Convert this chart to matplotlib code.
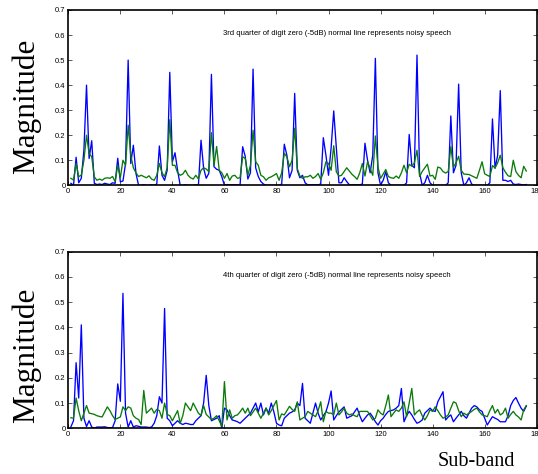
import numpy as np
import matplotlib
matplotlib.use("Agg")
import matplotlib.pyplot as plt

# ---------------- data ----------------
sub_band = np.arange(1, 177)

top_blue = [
    0.008, 0.0, 0.112, 0.01, 0.028, 0.14, 0.40, 0.107, 0.178, 0.008,
    0.003, 0.005, 0.003, 0.008, 0.005, 0.003, 0.01, 0.008, 0.108, 0.014,
    0.017, 0.087, 0.50, 0.087, 0.16, 0.048, 0.0, 0.0, 0.002, 0.0,
    0.0, 0.002, 0.0, 0.005, 0.157, 0.04, 0.02, 0.06, 0.451, 0.094,
    0.13, 0.06, 0.0, 0.0, 0.002, 0.0, 0.0, 0.0, 0.002, 0.0,
    0.18, 0.068, 0.028, 0.048, 0.443, 0.074, 0.064, 0.06, 0.034, 0.0,
    0.003, 0.002, 0.002, 0.002, 0.002, 0.0, 0.154, 0.115, 0.025, 0.05,
    0.464, 0.07, 0.035, 0.015, 0.005, 0.0, 0.0, 0.0, 0.0, 0.0,
    0.0, 0.005, 0.164, 0.12, 0.03, 0.06, 0.367, 0.06, 0.03, 0.04,
    0.01, 0.002, 0.002, 0.002, 0.002, 0.002, 0.005, 0.19, 0.12, 0.04,
    0.15, 0.297, 0.15, 0.01, 0.01, 0.03, 0.015, 0.002, 0.002, 0.002,
    0.002, 0.002, 0.005, 0.168, 0.10, 0.05, 0.12, 0.507, 0.05, 0.0,
    0.02, 0.054, 0.01, 0.0, 0.0, 0.0, 0.0, 0.0, 0.0, 0.01,
    0.203, 0.08, 0.07, 0.52, 0.05, 0.0, 0.01, 0.04, 0.01, 0.0,
    0.0, 0.0, 0.0, 0.0, 0.0, 0.01, 0.277, 0.05, 0.08, 0.404,
    0.05, 0.0, 0.01, 0.03, 0.005, 0.0, 0.0, 0.0, 0.0, 0.0,
    0.0, 0.01, 0.265, 0.068, 0.12, 0.378, 0.02, 0.02, 0.015, 0.02,
    0.005, 0.003, 0.005, 0.003, 0.002, 0.003,
]

top_green = [
    0.028, 0.021, 0.087, 0.034, 0.041, 0.10, 0.20, 0.127, 0.114, 0.034,
    0.02, 0.025, 0.02, 0.028, 0.03, 0.028, 0.035, 0.015, 0.08, 0.03,
    0.10, 0.08, 0.24, 0.12, 0.07, 0.05, 0.035, 0.04, 0.035, 0.03,
    0.038, 0.025, 0.02, 0.04, 0.087, 0.05, 0.035, 0.07, 0.262, 0.08,
    0.08, 0.05, 0.04, 0.045, 0.06, 0.04, 0.03, 0.025, 0.04, 0.025,
    0.06, 0.07, 0.065, 0.055, 0.21, 0.08, 0.155, 0.06, 0.05, 0.028,
    0.047, 0.02, 0.037, 0.04, 0.028, 0.03, 0.114, 0.107, 0.04, 0.08,
    0.22, 0.094, 0.08, 0.04, 0.034, 0.02, 0.03, 0.034, 0.04, 0.047,
    0.02, 0.05, 0.127, 0.114, 0.074, 0.10, 0.228, 0.067, 0.037, 0.028,
    0.034, 0.034, 0.04, 0.028, 0.035, 0.047, 0.024, 0.05, 0.094, 0.087,
    0.06, 0.158, 0.054, 0.037, 0.04, 0.055, 0.07, 0.057, 0.044, 0.035,
    0.024, 0.05, 0.087, 0.037, 0.094, 0.067, 0.04, 0.197, 0.074, 0.028,
    0.045, 0.063, 0.035, 0.03, 0.028, 0.037, 0.028, 0.05, 0.08, 0.05,
    0.084, 0.076, 0.09, 0.14, 0.035, 0.055, 0.07, 0.084, 0.037, 0.04,
    0.024, 0.073, 0.069, 0.055, 0.049, 0.055, 0.154, 0.073, 0.09, 0.116,
    0.06, 0.045, 0.044, 0.043, 0.038, 0.033, 0.028, 0.06, 0.094, 0.046,
    0.04, 0.035, 0.079, 0.069, 0.09, 0.12, 0.07, 0.052, 0.038, 0.035,
    0.10, 0.055, 0.04, 0.03, 0.076, 0.057,
]

bottom_blue = [
    0.006, 0.03, 0.26, 0.12, 0.41, 0.04, 0.007, 0.03, 0.005, 0.0,
    0.005, 0.005, 0.005, 0.006, 0.003, 0.002, 0.003, 0.03, 0.176, 0.107,
    0.535, 0.06, 0.005, 0.03, 0.005, 0.01, 0.008, 0.005, 0.005, 0.005,
    0.003, 0.005, 0.02, 0.05, 0.125, 0.10, 0.475, 0.04, 0.03, 0.01,
    0.02, 0.03, 0.02, 0.015, 0.02, 0.018, 0.015, 0.015, 0.03, 0.04,
    0.05, 0.10, 0.21, 0.09, 0.03, 0.035, 0.04, 0.05, 0.0, 0.08,
    0.073, 0.05, 0.033, 0.03, 0.026, 0.02, 0.03, 0.04, 0.05, 0.06,
    0.08, 0.10, 0.065, 0.10, 0.053, 0.08, 0.06, 0.10, 0.065, 0.02,
    0.013, 0.01, 0.04, 0.05, 0.06, 0.065, 0.073, 0.10, 0.09, 0.178,
    0.04, 0.03, 0.02, 0.06, 0.10, 0.06, 0.033, 0.05, 0.065, 0.10,
    0.148, 0.033, 0.05, 0.065, 0.075, 0.085, 0.04, 0.045, 0.05, 0.065,
    0.08, 0.05, 0.026, 0.04, 0.053, 0.06, 0.045, 0.026, 0.013, 0.03,
    0.04, 0.055, 0.067, 0.07, 0.073, 0.08, 0.09, 0.158, 0.026, 0.05,
    0.067, 0.053, 0.035, 0.02, 0.025, 0.033, 0.06, 0.07, 0.08, 0.07,
    0.067, 0.105, 0.125, 0.145, 0.033, 0.045, 0.053, 0.026, 0.04, 0.053,
    0.067, 0.05, 0.04, 0.06, 0.08, 0.09, 0.085, 0.073, 0.067, 0.04,
    0.013, 0.03, 0.046, 0.04, 0.035, 0.026, 0.026, 0.026, 0.05, 0.09,
    0.11, 0.122, 0.10, 0.08, 0.067, 0.088,
]

bottom_green = [
    0.042, 0.04, 0.12, 0.07, 0.03, 0.06, 0.09, 0.06, 0.058, 0.055,
    0.05, 0.047, 0.045, 0.065, 0.085, 0.07, 0.05, 0.035, 0.04, 0.045,
    0.085, 0.07, 0.085, 0.08, 0.05, 0.04, 0.035, 0.015, 0.15, 0.06,
    0.07, 0.08, 0.06, 0.075, 0.07, 0.04, 0.10, 0.055, 0.05, 0.03,
    0.05, 0.07, 0.02, 0.05, 0.10, 0.085, 0.07, 0.10, 0.08, 0.06,
    0.05, 0.09, 0.055, 0.045, 0.035, 0.04, 0.05, 0.03, 0.008, 0.185,
    0.033, 0.073, 0.04, 0.05, 0.053, 0.065, 0.08, 0.06, 0.08, 0.05,
    0.065, 0.08, 0.06, 0.04, 0.06, 0.08, 0.053, 0.07, 0.09, 0.11,
    0.033, 0.057, 0.053, 0.07, 0.087, 0.075, 0.067, 0.105, 0.033, 0.04,
    0.046, 0.067, 0.06, 0.053, 0.046, 0.07, 0.105, 0.026, 0.067, 0.06,
    0.06, 0.053, 0.10, 0.053, 0.065, 0.08, 0.06, 0.053, 0.057, 0.05,
    0.046, 0.067, 0.067, 0.067, 0.067, 0.05, 0.033, 0.04, 0.073, 0.06,
    0.053, 0.09, 0.132, 0.046, 0.06, 0.073, 0.067, 0.08, 0.105, 0.046,
    0.10, 0.158, 0.053, 0.065, 0.073, 0.05, 0.033, 0.05, 0.073, 0.067,
    0.085, 0.07, 0.053, 0.04, 0.045, 0.053, 0.08, 0.105, 0.10, 0.07,
    0.046, 0.06, 0.053, 0.06, 0.067, 0.075, 0.08, 0.065, 0.053, 0.05,
    0.046, 0.07, 0.09, 0.06, 0.075, 0.053, 0.06, 0.08, 0.04, 0.055,
    0.067, 0.053, 0.045, 0.033, 0.073, 0.09,
]

x_ticks = [0, 20, 40, 60, 80, 100, 120, 140, 160, 180]
y_ticks = [0, 0.1, 0.2, 0.3, 0.4, 0.5, 0.6, 0.7]
y_tick_labels = ["0", "0.1", "0.2", "0.3", "0.4", "0.5", "0.6", "0.7"]
titles = [
    "3rd quarter of digit zero (-5dB) normal line represents noisy speech",
    "4th quarter of digit zero (-5dB) normal line represents noisy speech",
]
y_label = "Magnitude"
x_label = "Sub-band"

# ---------------- figure ----------------
W, H = 538, 474
fig = plt.figure(figsize=(W / 100, H / 100), dpi=100)

def frac_rect(l, t, r, b):
    return [l / W, 1 - b / H, (r - l) / W, (b - t) / H]

ax_top = fig.add_axes(frac_rect(68.3, 10, 536.7, 185.3))
ax_bot = fig.add_axes(frac_rect(68.3, 251.7, 536.7, 428.3))

series = [(ax_top, top_blue, top_green, titles[0]),
          (ax_bot, bottom_blue, bottom_green, titles[1])]

for ax, blue, green, title in series:
    ax.plot(sub_band, blue, color="#0000ff", lw=0.95)
    ax.plot(sub_band, green, color="#0a7a0a", lw=0.95)
    ax.set_xlim(0, 180)
    ax.set_ylim(0, 0.7)
    ax.set_xticks(x_ticks)
    ax.set_yticks(y_ticks)
    ax.set_yticklabels(y_tick_labels)
    ax.tick_params(direction="in", length=3, width=0.6, top=True, right=True,
                   labelsize=5.5, pad=2, colors="#404040", labelcolor="black")
    for lab in ax.get_xticklabels() + ax.get_yticklabels():
        lab.set_family(["Liberation Sans", "DejaVu Sans"])
    for sp in ax.spines.values():
        sp.set_linewidth(1.2)
        sp.set_color("black")
    ax.text(59.5, 0.605, title, fontsize=5.5,
            family=["Liberation Sans", "DejaVu Sans"], va="center", ha="left")

fig.text(26 / W, 1 - 106 / H, y_label, rotation=90, ha="center", va="center",
         fontsize=22.5, family=["Liberation Serif", "DejaVu Serif"])
fig.text(26 / W, 1 - 355 / H, y_label, rotation=90, ha="center", va="center",
         fontsize=22.5, family=["Liberation Serif", "DejaVu Serif"])
fig.text(476 / W, 1 - 461 / H, x_label, ha="center", va="center",
         fontsize=14.5, family=["Liberation Serif", "DejaVu Serif"])

fig.savefig("out.png", dpi=100)
